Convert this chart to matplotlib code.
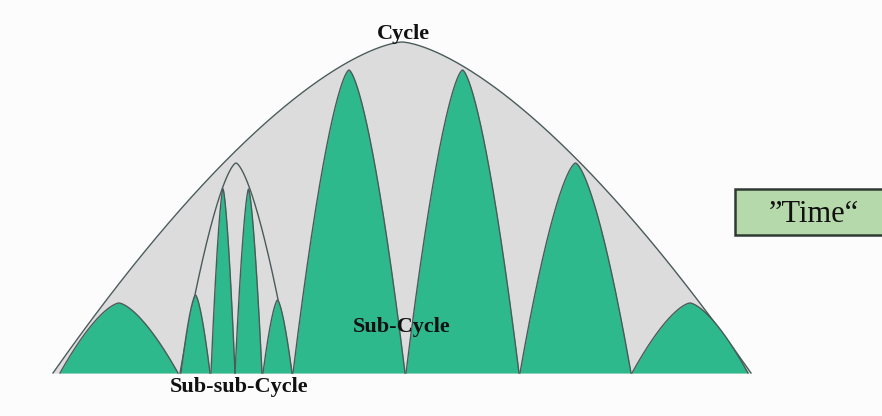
import numpy as np
import matplotlib
matplotlib.use("Agg")
import matplotlib.pyplot as plt
from matplotlib.patches import Rectangle

# ---- data (pixel-space schematic: baseline and arch spans/peaks) ----
BASE = 373
cycle_span = (53, 751)
cycle_peak = 42

sub_starts = [60, 293, 406, 520, 632]
sub_ends = [178, 405, 519, 631, 748]
sub_peaks = [303, 70, 70, 163, 303]

subsub_env_span = (180, 292)
subsub_env_peak = 163
subsub_starts = [181, 211, 235, 263]
subsub_ends = [210, 235, 262, 292]
subsub_peaks = [295, 189, 189, 300]

labels = ["Cycle", "Sub-Cycle", "Sub-sub-Cycle"]
box_label = "\u201dTime\u201c"

# ---- style ----
BG = "#fcfcfd"
GREY = "#dcdcdd"
GREEN = "#2eb98c"
EDGE = "#4b5a5a"
BOXFILL = "#b6d9ab"
BOXEDGE = "#2f3a33"
Q = 1.5


def arch(x0, x1, peak, n=600):
    x = np.linspace(x0, x1, n)
    c = (x0 + x1) / 2
    hw = (x1 - x0) / 2
    u = np.clip(np.abs(x - c) / hw, 0, 1)
    s = 1 - u ** Q
    y = BASE - (BASE - peak) * s
    return x, y


fig = plt.figure(figsize=(8.82, 4.16), dpi=100, facecolor=BG)
ax = fig.add_axes([0, 0, 1, 1])
ax.set_facecolor(BG)
ax.set_xlim(0, 882)
ax.set_ylim(416, 0)
ax.axis("off")

# main cycle envelope
x, y = arch(*cycle_span, cycle_peak)
ax.fill_between(x, BASE, y, color=GREY, lw=0, zorder=1)
ax.plot(x, y, color=EDGE, lw=1.0, zorder=2)

# sub-cycles
for x0, x1, pk in zip(sub_starts, sub_ends, sub_peaks):
    x, y = arch(x0, x1, pk)
    ax.fill_between(x, BASE, y, color=GREEN, lw=0, zorder=3)
    ax.plot(x, y, color=EDGE, lw=1.0, zorder=4)

# sub-sub-cycle envelope
x, y = arch(*subsub_env_span, subsub_env_peak)
ax.fill_between(x, BASE, y, color=GREY, lw=0, zorder=3)
ax.plot(x, y, color=EDGE, lw=1.0, zorder=4)

for x0, x1, pk in zip(subsub_starts, subsub_ends, subsub_peaks):
    x, y = arch(x0, x1, pk)
    ax.fill_between(x, BASE, y, color=GREEN, lw=0, zorder=5)
    ax.plot(x, y, color=EDGE, lw=1.0, zorder=6)

serif = ["Liberation Serif", "DejaVu Serif"]
ax.text(403, 39, labels[0], ha="center", va="baseline", fontsize=16,
        fontweight="bold", family=serif, color="#111111", zorder=10)
ax.text(402, 332, labels[1], ha="center", va="baseline", fontsize=16,
        fontweight="bold", family=serif, color="#111111", zorder=10)
ax.text(239, 392, labels[2], ha="center", va="baseline", fontsize=16,
        fontweight="bold", family=serif, color="#111111", zorder=10)

# "Time" box
ax.add_patch(Rectangle((735, 189), 170, 46, facecolor=BOXFILL,
                       edgecolor=BOXEDGE, lw=1.8, zorder=8))
ax.text(814, 222, box_label, ha="center", va="baseline", fontsize=22,
        family=serif, color="#111111", zorder=10)

fig.savefig("out.png", dpi=100, facecolor=BG)
